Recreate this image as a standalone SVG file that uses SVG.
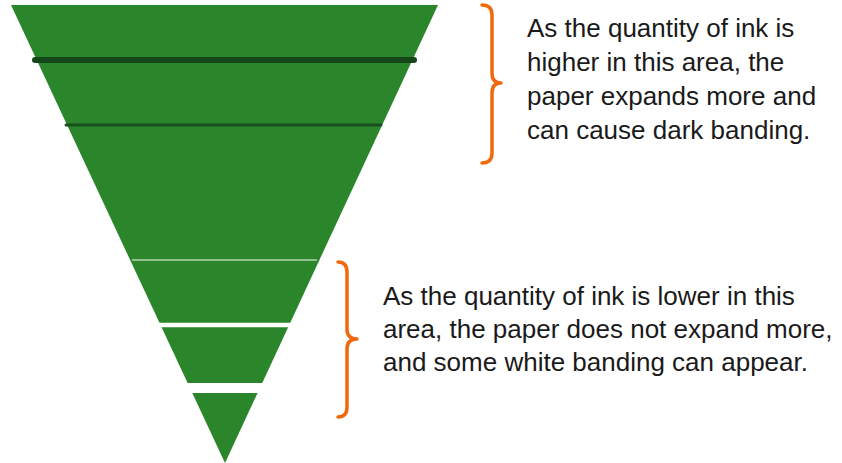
<svg xmlns="http://www.w3.org/2000/svg" width="842" height="463" viewBox="0 0 842 463">
<style>
.brace{fill:none;stroke:#f0690f;stroke-width:3.5;stroke-linecap:round;stroke-linejoin:round}
.txt{font-family:"Liberation Sans",Arial,sans-serif;font-size:26px;fill:#1a1a1a}
</style>
<rect width="842" height="463" fill="#ffffff"/>
<g id="funnel">
<polygon points="11,5 438,5 225,463" fill="#2b862b"/>
<line x1="35" y1="60" x2="414" y2="60" stroke="#15461a" stroke-width="6" stroke-linecap="round"/>
<line x1="66" y1="125" x2="381" y2="125" stroke="#17501c" stroke-width="3" stroke-linecap="round"/>
<line x1="132" y1="260" x2="317" y2="260" stroke="#b7d3b1" stroke-width="1.6"/>
<line x1="159" y1="325" x2="289" y2="325" stroke="#ffffff" stroke-width="4.5" stroke-linecap="round"/>
<rect x="150" y="383" width="150" height="10" fill="#ffffff"/>
</g>
<g id="connectors">
<path class="brace" d="M482,5 Q492,5 492,15 L492,73 Q492,83 501,83 Q492,83 492,93 L492,153 Q492,163 482,163"/>
<path class="brace" d="M338,262 Q347,262 347,272 L347,329 Q347,339 357,339 Q347,339 347,349 L347,407 Q347,417 338,417"/>
</g>
<g id="note-high">
<text class="txt" x="527" y="37">As the quantity of ink is</text>
<text class="txt" x="527" y="71">higher in this area, the</text>
<text class="txt" x="527" y="105">paper expands more and</text>
<text class="txt" x="527" y="139">can cause dark banding.</text>
</g>
<g id="note-low">
<text class="txt" x="383" y="305">As the quantity of ink is lower in this</text>
<text class="txt" x="383" y="338">area, the paper does not expand more,</text>
<text class="txt" x="383" y="371">and some white banding can appear.</text>
</g>
</svg>
